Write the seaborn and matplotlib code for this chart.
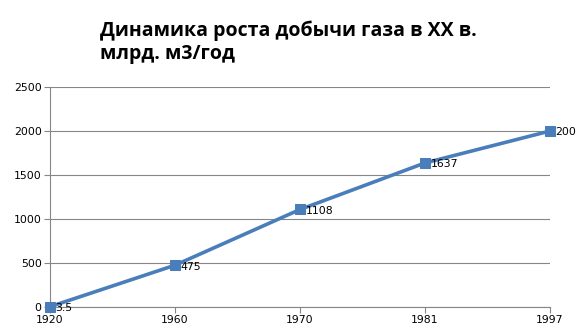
import matplotlib
matplotlib.use("Agg")
import matplotlib.pyplot as plt
import seaborn as sns
import pandas as pd

years = ["1920", "1960", "1970", "1981", "1997"]
values = [3.5, 475, 1108, 1637, 2000]
labels = ["3.5", "475", "1108", "1637", "2000"]
yticks = [0, 500, 1000, 1500, 2000, 2500]

sns.set_style("white")
plt.rcParams['font.family'] = ['DejaVu Sans']

df = pd.DataFrame({"year": years, "value": values})
df["pos"] = range(len(years))

fig = plt.figure(figsize=(5.76, 3.36), dpi=100)
ax = fig.add_axes([50/576, 1 - 307/336, 500/576, 220/336])

line_color = "#4a7ebb"
sns.lineplot(data=df, x="pos", y="value", ax=ax, color=line_color, linewidth=2.6,
             marker="s", markersize=6.5, markeredgecolor=line_color, clip_on=False, zorder=3)

for i, (v, t) in enumerate(zip(values, labels)):
    ax.annotate(t, (i, v), xytext=(4, -1), textcoords="offset points",
                ha="left", va="center", fontsize=7.8, color="black",
                annotation_clip=False, zorder=4)

ax.set_xlim(0, len(years) - 1)
ax.set_ylim(0, 2500)
ax.set_xticks(range(len(years)))
ax.set_xticklabels(years)
ax.set_yticks(yticks)
ax.set_yticklabels([str(t) for t in yticks])
ax.set_xlabel("")
ax.set_ylabel("")
ax.grid(axis="y", color="#868686", linewidth=0.8)
ax.grid(axis="x", visible=False)
ax.set_axisbelow(True)
for s in ["top", "right"]:
    ax.spines[s].set_visible(False)
for s in ["left", "bottom"]:
    ax.spines[s].set_color("#868686")
    ax.spines[s].set_linewidth(0.8)
ax.tick_params(axis="both", which="both", length=4, width=0.8, color="#868686",
               labelsize=7.8, labelcolor="black", pad=2)
ax.tick_params(axis="y", left=True)
ax.tick_params(axis="x", bottom=True)

fig.text(100/576, 1 - 42/336, "Динамика роста добычи газа в XX в.\nмлрд. м3/год",
         fontsize=14, fontweight="bold", family=["Open Sans", "DejaVu Sans"],
         color="black", ha="left", va="center", linespacing=1.2)

fig.savefig("out.png", dpi=100)
